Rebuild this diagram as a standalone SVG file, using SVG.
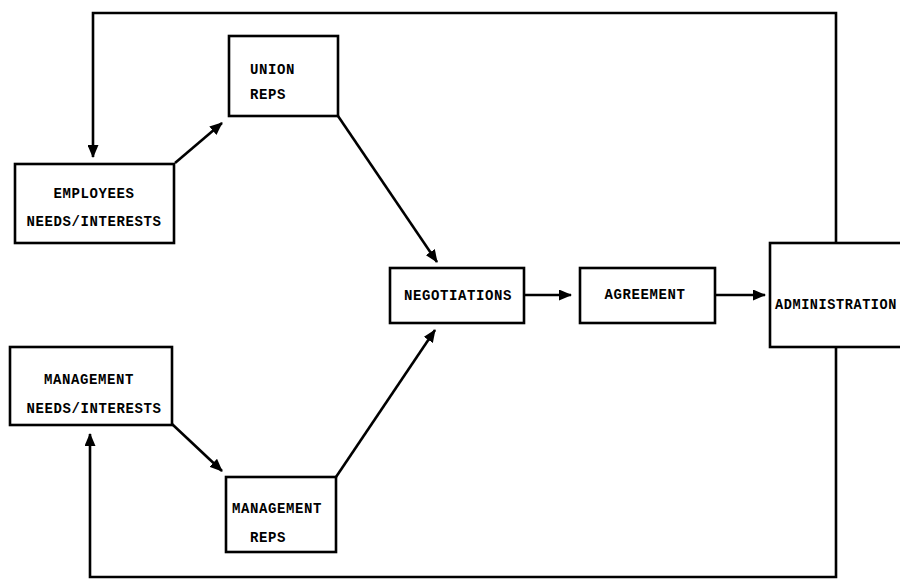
<svg xmlns="http://www.w3.org/2000/svg" width="900" height="579" viewBox="0 0 900 579">
<style>
.box{fill:#fff;stroke:#000;stroke-width:2.6}
.t{font-family:"Liberation Mono","DejaVu Sans Mono",monospace;font-weight:bold;font-size:14px;letter-spacing:0.6px;fill:#000}
.c{fill:none;stroke:#000;stroke-width:2.6}
</style>
<defs>
<marker id="ah" markerWidth="13" markerHeight="11" refX="12" refY="5.5" orient="auto" markerUnits="userSpaceOnUse">
<path d="M0,0 L13,5.5 L0,11 Z" fill="#000"/>
</marker>
</defs>
<rect width="900" height="579" fill="#fff"/>
<g id="connectors">
<polyline class="c" points="836,243 836,13 93,13 93,157" marker-end="url(#ah)"/>
<polyline class="c" points="836,347 836,577 90,577 90,434" marker-end="url(#ah)"/>
<line class="c" x1="175" y1="163" x2="222" y2="123" marker-end="url(#ah)"/>
<line class="c" x1="338" y1="116" x2="437" y2="262" marker-end="url(#ah)"/>
<line class="c" x1="172" y1="424" x2="222" y2="471" marker-end="url(#ah)"/>
<line class="c" x1="336" y1="477" x2="435" y2="330" marker-end="url(#ah)"/>
<line class="c" x1="525" y1="295" x2="571" y2="295" marker-end="url(#ah)"/>
<line class="c" x1="715" y1="295" x2="765" y2="295" marker-end="url(#ah)"/>
</g>
<g id="employees">
<rect class="box" x="15" y="164" width="159" height="79"/>
<text class="t" x="94" y="198" text-anchor="middle">EMPLOYEES</text>
<text class="t" x="94" y="226" text-anchor="middle">NEEDS/INTERESTS</text>
</g>
<g id="union">
<rect class="box" x="229" y="36" width="109" height="80"/>
<text class="t" x="250" y="74">UNION</text>
<text class="t" x="250" y="99">REPS</text>
</g>
<g id="negotiations">
<rect class="box" x="390" y="268" width="134" height="55"/>
<text class="t" x="458" y="300" text-anchor="middle">NEGOTIATIONS</text>
</g>
<g id="agreement">
<rect class="box" x="580" y="268" width="135" height="55"/>
<text class="t" x="645" y="299" text-anchor="middle">AGREEMENT</text>
</g>
<g id="administration">
<rect class="box" x="770" y="243" width="140" height="104"/>
<text class="t" x="775" y="309" textLength="122" lengthAdjust="spacingAndGlyphs">ADMINISTRATION</text>
</g>
<g id="management">
<rect class="box" x="10" y="347" width="162" height="78"/>
<text class="t" x="89" y="384" text-anchor="middle">MANAGEMENT</text>
<text class="t" x="94" y="413" text-anchor="middle">NEEDS/INTERESTS</text>
</g>
<g id="mgmtreps">
<rect class="box" x="226" y="477" width="110" height="75"/>
<text class="t" x="232" y="513">MANAGEMENT</text>
<text class="t" x="250" y="542">REPS</text>
</g>
</svg>
